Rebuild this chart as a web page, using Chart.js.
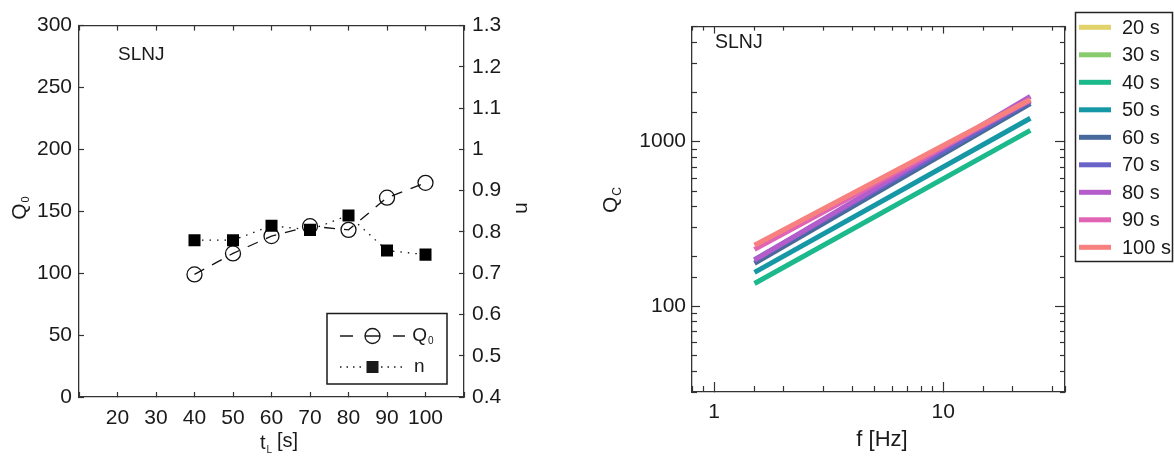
<!DOCTYPE html>
<html>
<head>
<meta charset="utf-8">
<title>SLNJ Q0, n and Qc</title>
<script src="https://cdn.jsdelivr.net/npm/chart.js@4.4.1/dist/chart.umd.min.js"></script>
<style>
  html, body { margin: 0; padding: 0; background: #fff; }
  #wrap { position: relative; width: 1174px; height: 457px; overflow: hidden; }
  .panel { position: absolute; top: 0; }
</style>
</head>
<body>
<div id="wrap">
  <canvas id="leftChart" class="panel" style="left:0" width="580" height="457"></canvas>
  <canvas id="rightChart" class="panel" style="left:580px" width="594" height="457"></canvas>
</div>
<script>
// left panel: Q0 and n against lapse time
var lapseTimes = [40, 50, 60, 70, 80, 90, 100];
var q0Values = [99, 116, 130, 138, 135, 161, 173];
var nValues = [0.78, 0.78, 0.815, 0.805, 0.84, 0.755, 0.745];

// right panel: Qc(f) lines, read at both ends (1.5 Hz and 24 Hz)
var freqs = [1.5, 24];
var qcLabels = ['20 s', '30 s', '40 s', '50 s', '60 s', '70 s', '80 s', '90 s', '100 s'];
var qc20 = [];
var qc30 = [];
var qc40 = [137, 1170];
var qc50 = [160, 1385];
var qc60 = [182, 1700];
var qc70 = [191, 1760];
var qc80 = [190, 1880];
var qc90 = [221, 1790];
var qc100 = [234, 1800];
var qcColors = ['#e2d26a', '#88cc6e', '#1bb98b', '#1597a5', '#48699b', '#6a64c9', '#b35cca', '#e063b4', '#f7817f'];

var FONT = "'Liberation Sans', Arial, Helvetica, sans-serif";
var INK = '#1a1a1a';
Chart.defaults.font.family = FONT;
Chart.defaults.color = INK;

function isDecade(v) {
  var l = Math.log10(v);
  return Math.abs(l - Math.round(l)) < 1e-6;
}

// one axis with inward tick marks, fixed box size
function makeAxis(type, position, min, max, o) {
  o = o || {};
  var horiz = position === 'top' || position === 'bottom';
  return {
    type: type,
    position: position,
    min: min,
    max: max,
    weight: o.weight || 0,
    ticks: {
      display: !!o.labels,
      stepSize: o.step,
      autoSkip: false,
      maxRotation: 0,
      padding: o.pad || 10,
      color: INK,
      font: { family: FONT, size: 21 },
      callback: o.fmt
    },
    grid: { drawOnChartArea: false, tickLength: -(o.tick || 5), color: '#333', tickWidth: 1.2 },
    border: { display: o.border !== false, color: '#333', width: 1.3 },
    afterBuildTicks: o.filter ? function (s) {
      s.ticks = s.ticks.filter(function (t) { return o.filter(t.value); });
    } : undefined,
    afterFit: function (s) {
      if (horiz) s.height = o.size || 0; else s.width = o.size || 0;
    }
  };
}

// text with a subscript, optionally rotated
function subText(ctx, main, sub, x, y, rot, size, subSize) {
  ctx.save();
  ctx.translate(x, y);
  ctx.rotate(rot);
  ctx.font = size + 'px ' + FONT;
  var w1 = ctx.measureText(main).width;
  ctx.font = subSize + 'px ' + FONT;
  var w2 = ctx.measureText(sub).width;
  var x0 = -(w1 + w2 + 1) / 2;
  ctx.textAlign = 'left';
  ctx.textBaseline = 'alphabetic';
  ctx.font = size + 'px ' + FONT;
  ctx.fillText(main, x0, size * 0.36);
  ctx.font = subSize + 'px ' + FONT;
  ctx.fillText(sub, x0 + w1 + 1, size * 0.36 + subSize * 0.35);
  ctx.restore();
}

var leftDecor = {
  id: 'leftDecor',
  afterDraw: function (chart) {
    var ctx = chart.ctx;
    ctx.save();
    ctx.fillStyle = INK;
    ctx.strokeStyle = INK;
    ctx.textBaseline = 'middle';
    ctx.textAlign = 'left';
    ctx.font = '19px ' + FONT;
    ctx.fillText('SLNJ', 118, 55);

    subText(ctx, 'Q', '0', 18, 208, -Math.PI / 2, 21, 11);
    subText(ctx, 't', 'L', 266, 442, 0, 20, 10);
    ctx.font = '20px ' + FONT;
    ctx.textAlign = 'left';
    ctx.fillText('[s]', 277, 441);
    ctx.save();
    ctx.translate(522, 208);
    ctx.rotate(Math.PI / 2);
    ctx.textAlign = 'center';
    ctx.font = '21px ' + FONT;
    ctx.fillText('n', 0, 0);
    ctx.restore();

    // legend
    ctx.lineWidth = 1.5;
    ctx.strokeRect(327, 313.5, 120, 70.5);
    ctx.lineWidth = 1.3;
    ctx.beginPath();
    ctx.moveTo(340, 336); ctx.lineTo(353, 336);
    ctx.moveTo(365, 336); ctx.lineTo(380, 336);
    ctx.moveTo(393, 336); ctx.lineTo(405, 336);
    ctx.stroke();
    ctx.beginPath();
    ctx.arc(372.5, 336, 7.5, 0, Math.PI * 2);
    ctx.stroke();
    subText(ctx, 'Q', '0', 423, 334, 0, 19, 10);

    ctx.setLineDash([1.5, 5]);
    ctx.beginPath();
    ctx.moveTo(340, 367); ctx.lineTo(365, 367);
    ctx.moveTo(381, 367); ctx.lineTo(404, 367);
    ctx.stroke();
    ctx.setLineDash([]);
    ctx.fillRect(366.5, 361, 12, 12);
    ctx.font = '19px ' + FONT;
    ctx.textAlign = 'left';
    ctx.fillText('n', 414, 367);
    ctx.restore();
  }
};

var rightDecor = {
  id: 'rightDecor',
  afterDraw: function (chart) {
    var ctx = chart.ctx;
    ctx.save();
    ctx.fillStyle = INK;
    ctx.textBaseline = 'middle';
    ctx.textAlign = 'left';
    ctx.font = '19.5px ' + FONT;
    ctx.fillText('SLNJ', 135, 43);
    subText(ctx, 'Q', 'C', 29, 200, -Math.PI / 2, 21, 12);
    ctx.textAlign = 'center';
    ctx.font = '22px ' + FONT;
    ctx.fillText('f [Hz]', 302, 440);

    // legend box to the right of the plot
    ctx.strokeStyle = '#222';
    ctx.lineWidth = 1.5;
    ctx.strokeRect(495.5, 12.5, 97, 249);
    ctx.textAlign = 'left';
    ctx.font = '20px ' + FONT;
    chart.data.datasets.forEach(function (ds, i) {
      var y = 27.3 + 27.5 * i;
      ctx.strokeStyle = ds.borderColor;
      ctx.lineWidth = 5;
      ctx.beginPath();
      ctx.moveTo(499, y);
      ctx.lineTo(531, y);
      ctx.stroke();
      ctx.fillStyle = INK;
      ctx.fillText(ds.label, 542, y + 1);
    });
    ctx.restore();
  }
};

function toPoints(xs, ys) {
  return ys.map(function (v, k) { return { x: xs[k], y: v }; });
}

new Chart(document.getElementById('leftChart'), {
  type: 'line',
  data: {
    datasets: [{
      label: 'Q0',
      data: toPoints(lapseTimes, q0Values),
      xAxisID: 'x',
      yAxisID: 'y',
      borderColor: '#111',
      borderWidth: 1.3,
      borderDash: [11, 9],
      pointStyle: 'circle',
      pointRadius: 7.5,
      pointBorderWidth: 1.3,
      pointBorderColor: '#111',
      pointBackgroundColor: 'rgba(0,0,0,0)',
      order: 2
    }, {
      label: 'n',
      data: toPoints(lapseTimes, nValues),
      xAxisID: 'x',
      yAxisID: 'y1',
      borderColor: '#111',
      borderWidth: 1.3,
      borderDash: [1.5, 6],
      pointStyle: 'rect',
      pointRadius: 8.5,
      pointBorderWidth: 0,
      pointBorderColor: '#000',
      pointBackgroundColor: '#000',
      order: 1
    }]
  },
  options: {
    responsive: false,
    animation: false,
    layout: { padding: { top: 20, left: 0, right: 0, bottom: 0 } },
    plugins: { legend: { display: false }, tooltip: { enabled: false } },
    scales: {
      x: makeAxis('linear', 'bottom', 10, 110, {
        labels: true, step: 10, pad: 14, size: 60, tick: 5,
        fmt: function (v) { return (v === 10 || v === 110) ? '' : String(v); }
      }),
      xTop: makeAxis('linear', 'top', 10, 110, { step: 10, tick: 5 }),
      y: makeAxis('linear', 'left', 0, 300, { labels: true, step: 50, pad: 12, size: 79, tick: 5 }),
      y1: makeAxis('linear', 'right', 0.4, 1.3, {
        labels: true, step: 0.1, pad: 13, size: 116, tick: 5,
        fmt: function (v) { return String(Math.round(v * 10) / 10); }
      })
    }
  },
  plugins: [leftDecor]
});

var qcSeries = [qc20, qc30, qc40, qc50, qc60, qc70, qc80, qc90, qc100];

new Chart(document.getElementById('rightChart'), {
  type: 'line',
  data: {
    datasets: qcLabels.map(function (lab, i) {
      return {
        label: lab,
        data: toPoints(freqs, qcSeries[i]),
        xAxisID: 'x',
        yAxisID: 'y',
        borderColor: qcColors[i],
        borderWidth: 5,
        pointRadius: 0,
        fill: false,
        order: qcLabels.length - i
      };
    })
  },
  options: {
    responsive: false,
    animation: false,
    layout: { padding: { top: 13, left: 0, right: 0, bottom: 0 } },
    plugins: { legend: { display: false }, tooltip: { enabled: false } },
    scales: {
      x: makeAxis('logarithmic', 'bottom', 0.8, 34, {
        labels: true, weight: 1, pad: 18, size: 65, tick: 10, filter: isDecade,
        fmt: function (v) { return String(v); }
      }),
      xMinor: makeAxis('logarithmic', 'bottom', 0.8, 34, {
        tick: 6, border: false, filter: function (v) { return !isDecade(v); }
      }),
      xTop: makeAxis('logarithmic', 'top', 0.8, 34, { weight: 1, tick: 7, filter: isDecade }),
      xTopMinor: makeAxis('logarithmic', 'top', 0.8, 34, {
        tick: 4, border: false, filter: function (v) { return !isDecade(v); }
      }),
      y: makeAxis('logarithmic', 'left', 30, 5000, {
        labels: true, weight: 1, pad: 14, size: 112, tick: 8, filter: isDecade,
        fmt: function (v) { return String(v); }
      }),
      yMinor: makeAxis('logarithmic', 'left', 30, 5000, {
        tick: 5, border: false, filter: function (v) { return !isDecade(v); }
      }),
      yRight: makeAxis('logarithmic', 'right', 30, 5000, { weight: 1, size: 109, tick: 10, filter: isDecade }),
      yRightMinor: makeAxis('logarithmic', 'right', 30, 5000, {
        tick: 5, border: false, filter: function (v) { return !isDecade(v); }
      })
    }
  },
  plugins: [rightDecor]
});
</script>
</body>
</html>
